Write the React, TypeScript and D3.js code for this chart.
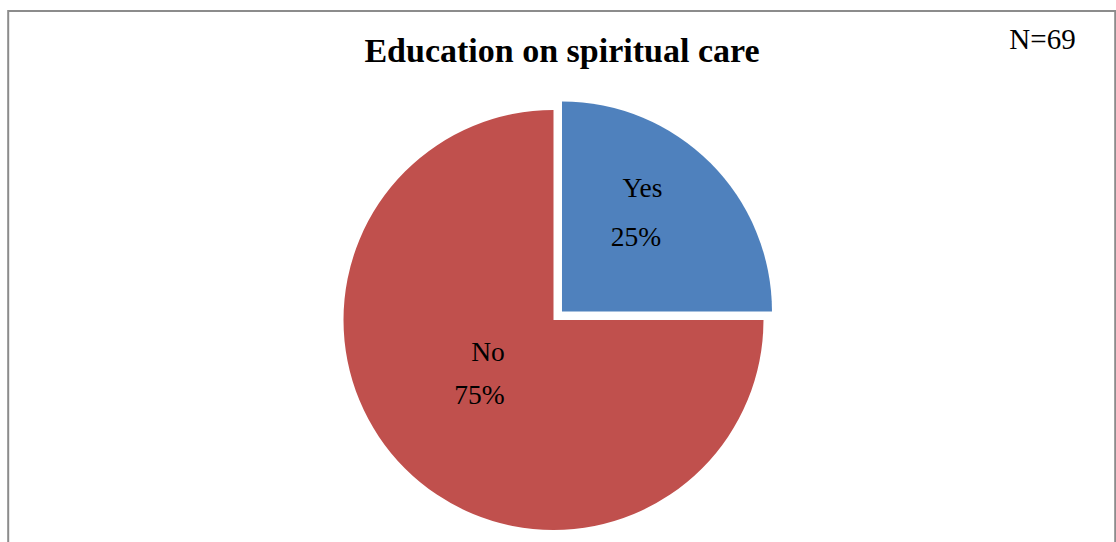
import React from "react";
import * as d3 from "d3";

const categories = ["Yes", "No"];
const values = [25, 75];
const percentLabels = ["25%", "75%"];
const colors = ["#4F81BD", "#C0504D"];
const title = "Education on spiritual care";
const note = "N=69";

const W = 1116;
const H = 542;

export default function App() {
  const cx = 553.5;
  const cy = 320;
  const r = 210;
  const pie = d3
    .pie<number>()
    .sort(null)
    .value((d) => d)
    .startAngle(0)
    .endAngle(2 * Math.PI);
  const arcs = pie(values);
  const arc = d3.arc<d3.PieArcDatum<number>>().innerRadius(0).outerRadius(r);
  const explode = [12, 0];
  const labelPos = [
    { name: [642.5, 196.5], pct: [636, 246] },
    { name: [488, 360.5], pct: [479.5, 404] },
  ];
  const font = "'Liberation Serif', 'DejaVu Serif', serif";
  return (
    <svg
      width={W}
      height={H}
      style={{ position: "fixed", left: 0, top: 0, background: "#fff" }}
    >
      <rect x={0} y={0} width={W} height={H} fill="#fff" />
      <rect
        x={8.2}
        y={11}
        width={1107}
        height={600}
        fill="none"
        stroke="#8c8c8c"
        strokeWidth={2}
      />
      <text
        x={562}
        y={61.5}
        textAnchor="middle"
        fontFamily={font}
        fontWeight="bold"
        fontSize={34}
        fill="#000"
      >
        {title}
      </text>
      <text
        x={1042.5}
        y={49.3}
        textAnchor="middle"
        fontFamily={font}
        fontSize={29}
        fill="#000"
      >
        {note}
      </text>
      {arcs.map((a, i) => {
        const mid = (a.startAngle + a.endAngle) / 2;
        const dx = Math.sin(mid) * explode[i];
        const dy = -Math.cos(mid) * explode[i];
        return (
          <g key={categories[i]} transform={`translate(${cx + dx},${cy + dy})`}>
            <path d={arc(a) || ""} fill={colors[i]} />
          </g>
        );
      })}
      {arcs.map((a, i) => (
        <g key={"l" + i} fontFamily={font} fontSize={27.5} fill="#000" textAnchor="middle">
          <text x={labelPos[i].name[0]} y={labelPos[i].name[1]}>
            {categories[i]}
          </text>
          <text x={labelPos[i].pct[0]} y={labelPos[i].pct[1]}>
            {percentLabels[i]}
          </text>
        </g>
      ))}
    </svg>
  );
}
